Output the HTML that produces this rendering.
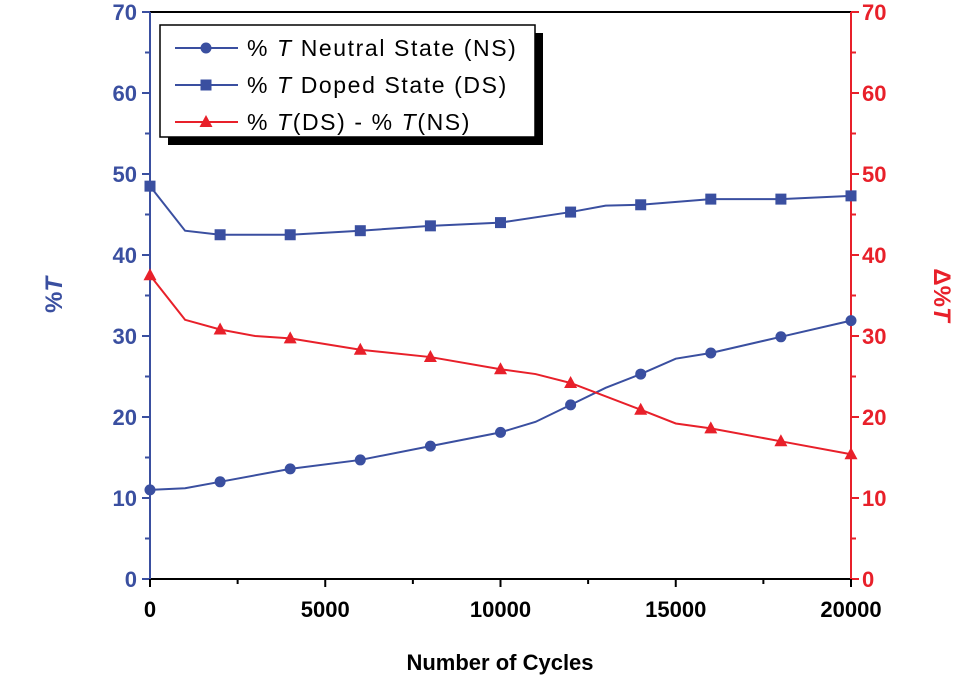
<!DOCTYPE html>
<html><head><meta charset="utf-8"><style>
body{margin:0;background:#fff}
svg text{font-family:"Liberation Sans",Arial,sans-serif}
</style></head><body>
<svg id="chart" width="954" height="679" xmlns="http://www.w3.org/2000/svg">
<g id="plot"></g>
</svg>
<script>
const cyclesNS=[0,1000,2000,4000,6000,8000,10000,11000,12000,13000,14000,15000,16000,18000,20000];
const valuesNS=[11,11.2,12,13.6,14.7,16.4,18.1,19.4,21.5,23.6,25.3,27.2,27.9,29.9,31.9];
const cyclesDS=[0,1000,2000,4000,6000,8000,10000,12000,13000,14000,16000,18000,20000];
const valuesDS=[48.5,43,42.5,42.5,43,43.6,44,45.3,46.1,46.2,46.9,46.9,47.3];
const cyclesDiff=[0,1000,2000,3000,4000,6000,8000,10000,11000,12000,14000,15000,16000,18000,20000];
const valuesDiff=[37.5,32,30.8,30,29.7,28.3,27.4,25.9,25.3,24.2,20.9,19.2,18.6,17,15.4];
const markerCycles=[0,2000,4000,6000,8000,10000,12000,14000,16000,18000,20000];
const xTicks=[0,5000,10000,15000,20000];
const yTicks=[0,10,20,30,40,50,60,70];

const NS="http://www.w3.org/2000/svg";
const X0=150,X1=851,Y0=579,Y1=12;
const xs=v=>X0+(v/20000)*(X1-X0);
const ys=v=>Y0-(v/70)*(Y0-Y1);
const g=document.getElementById('plot');
function el(tag,attrs,parent){const e=document.createElementNS(NS,tag);for(const k in attrs)e.setAttribute(k,attrs[k]);(parent||g).appendChild(e);return e;}
const BLUE="#3a4fa0",RED="#e8202a";

let e;
e=el('line',{x1:X0,y1:Y1,x2:X1,y2:Y1,stroke:'#000','stroke-width':2});


e=el('line',{x1:X0,y1:Y0,x2:X1,y2:Y0,stroke:'#000','stroke-width':2});


e=el('line',{x1:X0,y1:Y1,x2:X0,y2:Y0,stroke:BLUE,'stroke-width':2});


e=el('line',{x1:X1,y1:Y1,x2:X1,y2:Y0,stroke:RED,'stroke-width':2});



for(let v=0;v<=70;v+=5){
  const y=ys(v),major=v%10===0,len=major?8:5;
  el('line',{x1:X0-len,y1:y,x2:X0,y2:y,stroke:BLUE,'stroke-width':2});
  el('line',{x1:X1,y1:y,x2:X1+len,y2:y,stroke:RED,'stroke-width':2});
}
yTicks.forEach(v=>{
  const t=el('text',{x:X0-13,y:ys(v)+8,'text-anchor':'end','font-size':22,'font-weight':'bold',fill:BLUE});t.textContent=v;
  
  
  const r=el('text',{x:X1+11,y:ys(v)+8,'text-anchor':'start','font-size':22,'font-weight':'bold',fill:RED});r.textContent=v;
  
  
});
for(let v=0;v<=20000;v+=2500){
  const major=v%5000===0;
  el('line',{x1:xs(v),y1:Y0,x2:xs(v),y2:Y0+(major?8:5),stroke:'#000','stroke-width':2});
}
xTicks.forEach(v=>{
  const t=el('text',{x:xs(v),y:617,'text-anchor':'middle','font-size':22,'font-weight':'bold',fill:'#000'});t.textContent=v;
  
  
});
e=el('text',{x:500,y:670,'text-anchor':'middle','font-size':22,'font-weight':'bold',fill:'#000'});e.textContent='Number of Cycles';


e=el('text',{x:0,y:0,'text-anchor':'middle','font-size':24,'font-weight':'bold',fill:BLUE,transform:'translate(62,295) rotate(-90)'});
e.innerHTML='%<tspan font-style="italic">T</tspan>';


e=el('text',{x:0,y:0,'text-anchor':'middle','font-size':24,'font-weight':'bold',fill:RED,transform:'translate(934,295) rotate(90)'});
e.innerHTML='Δ%<tspan font-style="italic">T</tspan>';



function series(cx,vals,color,name,marker){
  const d=cx.map((c,i)=>(i?'L':'M')+xs(c)+','+ys(vals[i])).join('');
  const p=el('path',{d:d,fill:'none',stroke:color,'stroke-width':2});
  
  
  cx.forEach((c,i)=>{
    if(!markerCycles.includes(c))return;
    const x=xs(c),y=ys(vals[i]);let m;
    if(marker==='circle')m=el('circle',{cx:x,cy:y,r:5.5,fill:color});
    else if(marker==='square')m=el('rect',{x:x-5.5,y:y-5.5,width:11,height:11,fill:color});
    else m=el('path',{d:`M${x},${y-7}L${x+6.5},${y+5}L${x-6.5},${y+5}Z`,fill:color});
    
    
  });
}
series(cyclesNS,valuesNS,BLUE,'neutral-state','circle');
series(cyclesDS,valuesDS,BLUE,'doped-state','square');
series(cyclesDiff,valuesDiff,RED,'difference','triangle');

const lg=el('g',{});


el('rect',{x:168,y:33,width:375,height:112,fill:'#000'},lg);
el('rect',{x:160,y:25,width:375,height:112,fill:'#fff',stroke:'#000','stroke-width':1.5},lg);
const items=[['%','T',' Neutral State (NS)',BLUE,'circle'],['%','T',' Doped State (DS)',BLUE,'square'],['%','T','(DS) - % <tspan font-style="italic">T</tspan>(NS)',RED,'triangle']];
items.forEach((it,i)=>{
  const y=48+i*37;
  const le=el('g',{},lg);
  
  
  el('line',{x1:175,y1:y,x2:238,y2:y,stroke:it[3],'stroke-width':2},le);
  if(it[4]==='circle')el('circle',{cx:206,cy:y,r:5.5,fill:it[3]},le);
  else if(it[4]==='square')el('rect',{x:200.5,y:y-5.5,width:11,height:11,fill:it[3]},le);
  else el('path',{d:`M206,${y-7}L212.5,${y+5}L199.5,${y+5}Z`,fill:it[3]},le);
  const t=el('text',{x:247,y:y+8,'font-size':23,'letter-spacing':1.6,fill:'#000'},le);
  t.innerHTML=it[0]+' <tspan font-style="italic">'+it[1]+'</tspan>'+it[2];
});
</script>
</body></html>
